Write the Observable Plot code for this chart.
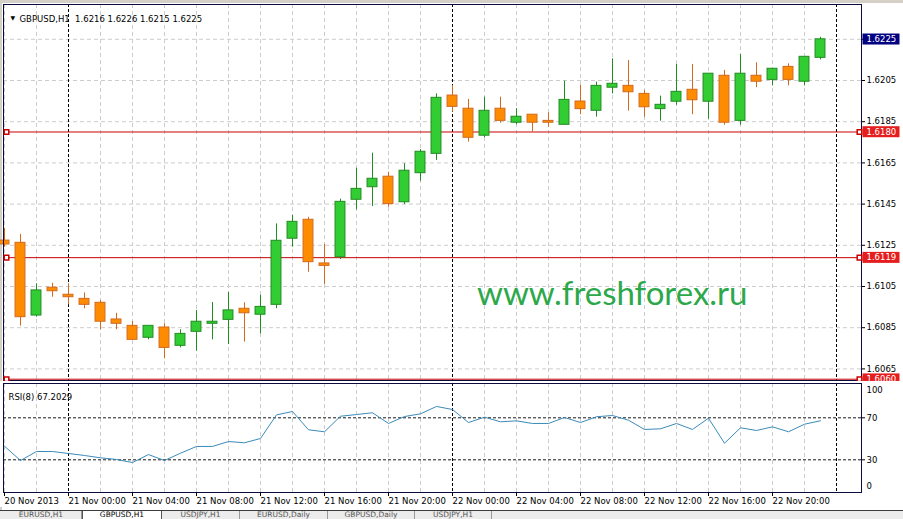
<!DOCTYPE html>
<html><head><meta charset="utf-8">
<script src="https://cdn.jsdelivr.net/npm/d3@7"></script>
<script src="https://cdn.jsdelivr.net/npm/@observablehq/plot@0.6"></script>
<style>
html,body{margin:0;padding:0;background:#fff;}
#wrap{position:relative;width:903px;height:519px;overflow:hidden;background:#fff;font-family:"DejaVu Sans",sans-serif;}
#topbar{position:absolute;left:0;top:0;width:903px;height:3px;background:#d4d0c8;}
#leftbar{position:absolute;left:0;top:0;width:2px;height:511px;background:#d4d0c8;}
#main{position:absolute;left:0;top:0;}
#rsi{position:absolute;left:0;top:381px;background:#fff;}
#wm{position:absolute;left:477px;top:276px;font-family:Lato,sans-serif;font-size:33px;line-height:33px;color:#2ca84b;white-space:nowrap;pointer-events:none;}
#tabs{position:absolute;left:0;top:510px;width:903px;height:9px;border-top:1px solid #3c3c3c;background:#ececec;display:flex;overflow:hidden;font-size:7.5px;line-height:8px;font-family:"DejaVu Sans",sans-serif;padding-left:1px;box-sizing:border-box;}
.tab{height:9px;color:#555;border-right:1px solid #9a9a9a;white-space:nowrap;box-sizing:border-box;text-align:center;flex:none;}
.tab.active{background:#fff;color:#000;border:1px solid #555;border-top:none;}
svg{display:block;}
</style></head>
<body><div id="wrap">
<div id="topbar"></div><div id="leftbar"></div>
<div id="main"></div><div id="rsi"></div>
<div id="wm"></div>
<div id="tabs"></div>
</div>
<script>
// ---------------- data ----------------
const symbol = "GBPUSD";
const timeframe = "H1";
const watermark = "www.freshforex.ru";
// bar time, in hours from 21 Nov 2013 00:00
const barHour = [-4,-3,-2,-1,0,1,2,3,4,5,6,7,8,9,10,11,12,13,14,15,16,17,18,19,20,21,22,23,24,25,26,27,28,29,30,31,32,33,34,35,36,37,38,39,40,41,42,43,44,45,46,47];
const opens  = [1.61273,1.61262,1.60909,1.61044,1.61010,1.60990,1.60971,1.60890,1.60859,1.60801,1.60851,1.60762,1.60830,1.60869,1.60888,1.60942,1.60913,1.60961,1.61282,1.61374,1.61162,1.61192,1.61471,1.61532,1.61583,1.61459,1.61600,1.61694,1.61977,1.61913,1.61782,1.61913,1.61845,1.61884,1.61854,1.61835,1.61948,1.61903,1.62015,1.62024,1.61985,1.61911,1.61947,1.62005,1.61947,1.62073,1.61854,1.62073,1.62053,1.62116,1.62044,1.6216];
const highs  = [1.61332,1.61303,1.61063,1.61066,1.61063,1.61019,1.60982,1.60920,1.60880,1.60860,1.60869,1.60840,1.60934,1.60972,1.61021,1.60971,1.61008,1.61354,1.61395,1.61386,1.61254,1.61474,1.61624,1.61697,1.61605,1.61646,1.61715,1.61985,1.62026,1.61958,1.61969,1.61969,1.61913,1.61885,1.61893,1.62047,1.62026,1.62042,1.62155,1.62147,1.62001,1.61974,1.62128,1.62128,1.62083,1.62099,1.62176,1.62136,1.62108,1.62131,1.62166,1.6226];
const lows   = [1.61240,1.60858,1.60901,1.60998,1.60961,1.60942,1.60840,1.60840,1.60789,1.60791,1.60699,1.60752,1.60736,1.60791,1.60768,1.60780,1.60820,1.60942,1.61241,1.61119,1.61060,1.61181,1.61422,1.61438,1.61435,1.61448,1.61561,1.61662,1.61896,1.61751,1.61772,1.61843,1.61835,1.61799,1.61823,1.61834,1.61884,1.61872,1.61985,1.61901,1.61872,1.61852,1.61930,1.61884,1.61862,1.61833,1.61833,1.62015,1.62024,1.62024,1.62024,1.6215];
const closes = [1.61254,1.60901,1.61031,1.61027,1.60998,1.60961,1.60879,1.60869,1.60791,1.60859,1.60752,1.60820,1.60879,1.60879,1.60934,1.60920,1.60951,1.61272,1.61364,1.61168,1.61150,1.61461,1.61524,1.61573,1.61450,1.61612,1.61704,1.61966,1.61922,1.61772,1.61903,1.61854,1.61874,1.61845,1.61845,1.61956,1.61911,1.62024,1.62034,1.61993,1.61920,1.61932,1.61995,1.61954,1.62083,1.61845,1.62083,1.62044,1.62107,1.62053,1.62165,1.6225];
const rsiPeriod = 8;
const rsiValues = [43.0,29.3,37.9,37.9,36.0,34.1,31.9,30.3,27.4,35.0,29.3,36.3,42.7,42.7,47.4,46.2,50.3,72.8,76.0,58.6,56.7,71.5,73.1,74.8,64.6,71.2,73.8,80.8,77.9,65.5,70.6,66.2,67.1,64.6,64.6,70.3,65.5,71.0,72.2,67.7,58.9,59.5,64.6,58.9,69.6,45.8,60.5,57.9,61.4,56.7,63.9,67.2029];
const priceTicks = [1.6065,1.6085,1.6105,1.6125,1.6145,1.6165,1.6185,1.6205,1.6225];
const levelLines = [1.6180,1.6119,1.6060];
const rsiLevels = [70,30];
const rsiTopLabel = [100];
const rsiBottomLabel = [0];
const xTickHours = [-4,0,4,8,12,16,20,24,28,32,36,40,44];
const xTickLabels = ["20 Nov 2013","21 Nov 00:00","21 Nov 04:00","21 Nov 08:00","21 Nov 12:00","21 Nov 16:00","21 Nov 20:00","22 Nov 00:00","22 Nov 04:00","22 Nov 08:00","22 Nov 12:00","22 Nov 16:00","22 Nov 20:00"];
const separatorHours = [0,24,48];
const tabNames = ["EURUSD,H1","GBPUSD,H1","USDJPY,H1","EURUSD,Daily","GBPUSD,Daily","USDJPY,H1"];
const activeTab = 1;

// ---------------- styles ----------------
const FRAME = "#0b0b40", GRID = "#cccccc", RED = "#c80000", BOXRED = "#e41e1e", NAVY = "#000080";
const BULL_FILL = "#32cd32", BULL_EDGE = "#228b22", BEAR_FILL = "#ff8c00", BEAR_EDGE = "#d2691e";
const FONT = {fontFamily: "DejaVu Sans", fontSize: "8.5px", color: "#000", background: "transparent", overflow: "visible"};
const TAB_WIDTHS = [81, 80, 78, 88, 87, 77];

// ---------------- tables ----------------
const candles = barHour.map((h, i) => ({h, o: opens[i], hi: highs[i], l: lows[i], c: closes[i], up: closes[i] >= opens[i]}));
const rsiRows = barHour.map((h, i) => ({h, v: rsiValues[i]}));
const gridHours = d3.range(xTickHours[0], separatorHours[separatorHours.length - 1] + 1, 2).filter(h => !separatorHours.includes(h));
const last = candles[candles.length - 1];
const fmt = d => d.toFixed(4);
const titleText = `${symbol},${timeframe}  ${fmt(last.o)} ${fmt(last.hi)} ${fmt(last.l)} ${fmt(last.c)}`;
const priceBoxes = [{price: last.c, color: NAVY}, ...levelLines.map(p => ({price: p, color: BOXRED}))];
const xDomain = [-4.0625, 49.5625];

const main = Plot.plot({
  width: 903, height: 381,
  marginLeft: 3, marginRight: 42, marginTop: 4, marginBottom: 1,
  x: {domain: xDomain, axis: null},
  y: {domain: [1.6059369, 1.6241893], axis: null},
  color: {type: "identity"},
  style: FONT,
  marks: [
    Plot.ruleY(priceTicks, {stroke: GRID, strokeDasharray: "4,3"}),
    Plot.ruleX(gridHours, {stroke: GRID, strokeDasharray: "4,3"}),
    Plot.ruleX(separatorHours, {stroke: "#000", strokeDasharray: "3,2"}),
    Plot.ruleY(levelLines, {stroke: RED}),
    Plot.ruleX(candles, {x: "h", y1: "l", y2: "hi", stroke: d => d.up ? BULL_EDGE : BEAR_EDGE}),
    Plot.rect(candles, {x1: d => d.h - 0.31, x2: d => d.h + 0.31, y1: "o", y2: "c",
      fill: d => d.up ? BULL_FILL : BEAR_FILL, stroke: d => d.up ? BULL_EDGE : BEAR_EDGE}),
    Plot.frame({stroke: FRAME}),
    Plot.dot(levelLines, {y: d => d, frameAnchor: "left", dx: 3, symbol: "square", r: 2.6, fill: "white", stroke: RED}),
    Plot.dot(levelLines, {y: d => d, frameAnchor: "right", dx: -2, symbol: "square", r: 2.6, fill: "white", stroke: RED}),
    Plot.axisY({anchor: "right", ticks: priceTicks, tickSize: 3, tickPadding: 2, tickFormat: fmt, fill: "#000", label: null}),
    Plot.text(priceBoxes, {y: "price", text: d => fmt(d.price), frameAnchor: "right", dx: 5, textAnchor: "start", fill: "#fffffe"}),
    Plot.text(["\u25BC"], {frameAnchor: "top-left", dx: 7, dy: 11, fontSize: 6, fill: "#000"}),
    Plot.text([titleText], {frameAnchor: "top-left", dx: 16, dy: 11.5, textAnchor: "start", fill: "#000"})
  ]
});

const rsiPlot = Plot.plot({
  width: 903, height: 126,
  marginLeft: 3, marginRight: 42, marginTop: 2, marginBottom: 15,
  x: {domain: xDomain, axis: null},
  y: {domain: [-1.14, 102.67], axis: null},
  style: FONT,
  marks: [
    Plot.ruleX(gridHours, {stroke: GRID, strokeDasharray: "4,3"}),
    Plot.ruleX(separatorHours, {stroke: "#000", strokeDasharray: "3,2"}),
    Plot.ruleY(rsiLevels, {stroke: "#1a1a1a", strokeDasharray: "3,2"}),
    Plot.line(rsiRows, {x: "h", y: "v", stroke: "#3b8bba", strokeWidth: 1}),
    Plot.frame({stroke: FRAME}),
    Plot.axisX({anchor: "bottom", ticks: xTickHours, tickFormat: d => xTickLabels[xTickHours.indexOf(d)], tickSize: 4, tickPadding: 1, textAnchor: "start", fill: "#000", label: null}),
    Plot.axisY({anchor: "right", ticks: rsiLevels, tickSize: 3, tickPadding: 2, fill: "#000", label: null}),
    Plot.text(rsiTopLabel, {y: d => d, text: d => String(d), frameAnchor: "right", dx: 5, dy: 4, textAnchor: "start", fill: "#000"}),
    Plot.text(rsiBottomLabel, {y: d => d, text: d => String(d), frameAnchor: "right", dx: 5, dy: -5, textAnchor: "start", fill: "#000"}),
    Plot.text([`RSI(${rsiPeriod}) ${rsiValues[rsiValues.length - 1].toFixed(4)}`], {frameAnchor: "top-left", dx: 5, dy: 10, textAnchor: "start", fill: "#000"})
  ]
});

document.getElementById("main").appendChild(main);
document.getElementById("rsi").appendChild(rsiPlot);

// boxes behind the price labels on the right axis
(function () {
  const g = main.querySelector('g[fill="#fffffe"]');
  if (!g) return;
  g.querySelectorAll("text").forEach((t, i) => {
    const b = t.getBBox();
    const r = document.createElementNS("http://www.w3.org/2000/svg", "rect");
    r.setAttribute("x", b.x - 4);
    r.setAttribute("y", b.y - 0.5);
    r.setAttribute("width", 37);
    r.setAttribute("height", b.height + 1);
    r.setAttribute("fill", priceBoxes[i].color);
    const tr = t.getAttribute("transform");
    if (tr) r.setAttribute("transform", tr);
    t.parentNode.insertBefore(r, t);
  });
})();

document.getElementById("wm").textContent = watermark;
const tabs = document.getElementById("tabs");
tabNames.forEach((n, i) => {
  const d = document.createElement("div");
  d.className = "tab" + (i === activeTab ? " active" : "");
  d.style.width = TAB_WIDTHS[i] + "px";
  d.textContent = n;
  tabs.appendChild(d);
});
</script>
</body></html>
